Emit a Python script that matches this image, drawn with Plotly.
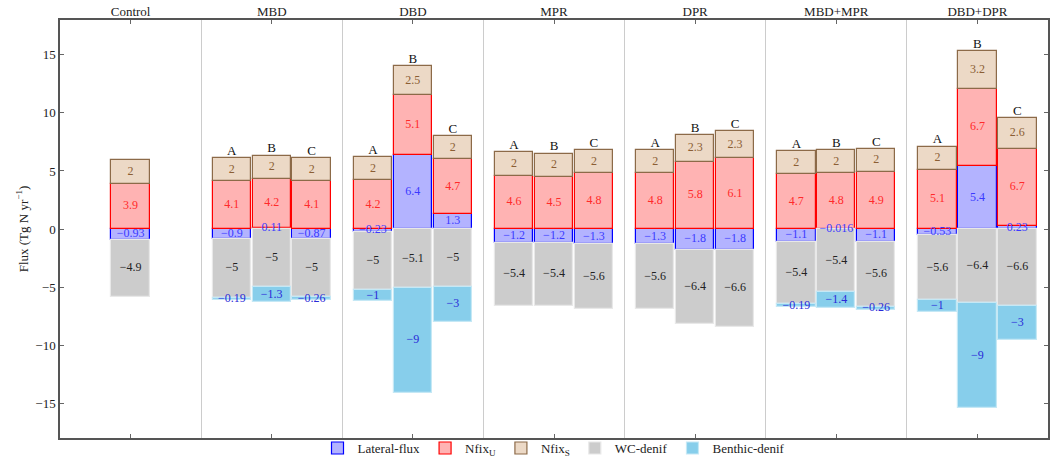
import plotly.graph_objects as go

groups = ["Control", "MBD", "DBD", "MPR", "DPR", "MBD+MPR", "DBD+DPR"]
bar_group = [0, 1, 1, 1, 2, 2, 2, 3, 3, 3, 4, 4, 4, 5, 5, 5, 6, 6, 6]
bar_member = ["", "A", "B", "C", "A", "B", "C", "A", "B", "C", "A", "B", "C",
              "A", "B", "C", "A", "B", "C"]

lateral = [-0.93, -0.9, 0.11, -0.87, -0.23, 6.4, 1.3, -1.2, -1.2, -1.3,
           -1.3, -1.8, -1.8, -1.1, -0.016, -1.1, -0.53, 5.4, 0.23]
nfix_u = [3.9, 4.1, 4.2, 4.1, 4.2, 5.1, 4.7, 4.6, 4.5, 4.8,
          4.8, 5.8, 6.1, 4.7, 4.8, 4.9, 5.1, 6.7, 6.7]
nfix_s = [2, 2, 2, 2, 2, 2.5, 2, 2, 2, 2,
          2, 2.3, 2.3, 2, 2, 2, 2, 3.2, 2.6]
wc_denif = [-4.9, -5, -5, -5, -5, -5.1, -5, -5.4, -5.4, -5.6,
            -5.6, -6.4, -6.6, -5.4, -5.4, -5.6, -5.6, -6.4, -6.6]
benthic = [None, -0.19, -1.3, -0.26, -1, -9, -3, None, None, None,
           None, None, None, -0.19, -1.4, -0.26, -1, -9, -3]

yticks = [-15, -10, -5, 0, 5, 10, 15]

member_offset = {"": 0, "A": -1, "B": 0, "C": 1}
SPACING = 0.283
xs = [g + member_offset[m] * SPACING for g, m in zip(bar_group, bar_member)]


def fmt(v):
    return f"{v:g}".replace("-", "\u2212")


SERIF = "Liberation Serif, Times New Roman, DejaVu Serif, serif"

series = [
    ("Lateral-flux", lateral, "#b3b3ff", "#0000ff", "#3a3aff"),
    ("Nfix<sub>U</sub>", nfix_u, "#ffb3b3", "#ff0000", "#ff2a2a"),
    ("Nfix<sub>S</sub>", nfix_s, "#ecd9c6", "#8c6a48", "#8b5e34"),
    ("WC-denif", wc_denif, "#cccccc", "#e8e8e8", "#222222"),
    ("Benthic-denif", benthic, "#87ceeb", "#c5e8f5", "#2a2ad8"),
]

fig = go.Figure()
for name, vals, fill, line, tcol in series:
    fig.add_trace(go.Bar(
        x=xs, y=vals, name=name, width=0.272,
        marker=dict(color=fill, line=dict(color=line, width=1.2)),
        hoverinfo="skip",
    ))

# segment midpoints for labels, following the relative stacking order
pos_base = [0.0] * len(xs)
neg_base = [0.0] * len(xs)
for name, vals, fill, line, tcol in series:
    lx, ly, lt = [], [], []
    for i, v in enumerate(vals):
        if v is None:
            continue
        if v >= 0:
            mid = pos_base[i] + v / 2
            pos_base[i] += v
        else:
            mid = neg_base[i] + v / 2
            neg_base[i] += v
        lx.append(xs[i])
        ly.append(mid)
        lt.append(fmt(v))
    fig.add_trace(go.Scatter(
        x=lx, y=ly, mode="text", text=lt, textposition="middle center",
        textfont=dict(family=SERIF, size=12, color=tcol),
        showlegend=False, hoverinfo="skip", cliponaxis=False,
    ))

lab_x = [x for x, m in zip(xs, bar_member) if m]
lab_y = [y for y, m in zip(pos_base, bar_member) if m]
lab_t = [m for m in bar_member if m]
fig.add_trace(go.Scatter(
    x=lab_x, y=lab_y, mode="text", text=lab_t, textposition="top center",
    textfont=dict(family=SERIF, size=13, color="#111111"),
    showlegend=False, hoverinfo="skip", cliponaxis=False,
))

fig.update_layout(
    width=1052, height=460,
    barmode="relative", bargap=0,
    plot_bgcolor="white", paper_bgcolor="white",
    margin=dict(l=60, r=4, t=20, b=22, autoexpand=False),
    font=dict(family=SERIF, size=12, color="#222222"),
    legend=dict(orientation="h", x=0.5, xanchor="center",
                yref="container", y=0.026, yanchor="middle",
                bgcolor="rgba(0,0,0,0)",
                font=dict(family=SERIF, size=13),
                itemwidth=30, tracegroupgap=0, traceorder="normal"),
    showlegend=True,
)
fig.update_xaxes(
    range=[-0.5, 6.5], side="top", automargin=False,
    tickmode="array", tickvals=list(range(len(groups))), ticktext=groups,
    ticks="inside", ticklen=4, tickcolor="#666666", ticklabelstandoff=-3,
    showline=True, linecolor="#555555", linewidth=1.5, mirror="ticks",
    showgrid=False, zeroline=False,
    tickfont=dict(family=SERIF, size=13, color="#222222"),
    minor=dict(tickmode="array", tickvals=[0.5, 1.5, 2.5, 3.5, 4.5, 5.5],
               showgrid=True, gridcolor="#cccccc", gridwidth=1.2, ticks=""),
)
fig.update_yaxes(
    range=[-18, 18], tickmode="array", tickvals=yticks, automargin=False,
    ticks="inside", ticklen=4, tickcolor="#666666",
    showline=True, linecolor="#555555", linewidth=1.5, mirror="ticks",
    showgrid=False, zeroline=False,
    tickfont=dict(family=SERIF, size=13, color="#222222"),
    title=dict(text="Flux (Tg N yr<sup>\u22121</sup>)",
               font=dict(family=SERIF, size=13), standoff=4),
)

fig.write_html(
    "out.html",
    config={"displayModeBar": False},
    post_script="document.body.style.margin='0';document.body.style.overflow='hidden';",
)
